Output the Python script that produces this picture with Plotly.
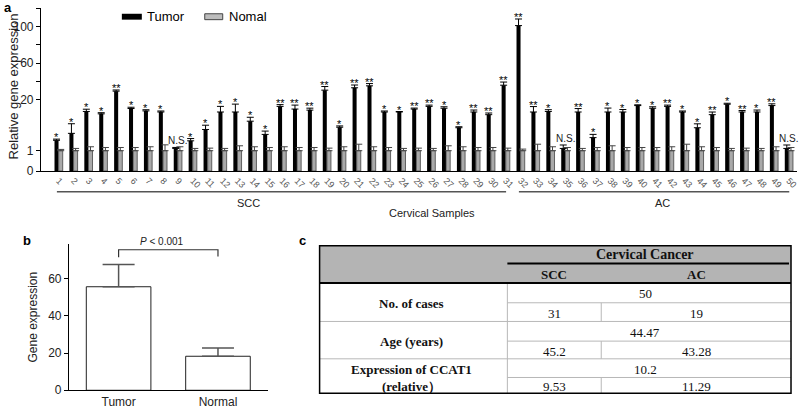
import numpy as np
import plotly.graph_objects as go

W, H = 800, 413

# ---------------- data: panel a ----------------
samples = list(range(1, 51))
tumor = [4.9, 7.5, 15.7, 14.8, 29.6, 16.8, 15.9, 15.5, 1.85, 4.7,
         8.95, 15.5, 15.5, 12.05, 7.1, 17.6, 16.6, 16.2, 30.7, 9.8,
         33.3, 35.4, 15.5, 15.5, 16.6, 17.6, 16.9, 9.6, 15.5, 14.5,
         36.1, 101.0, 15.5, 15.7, 1.85, 15.5, 5.9, 15.5, 15.5, 17.9,
         16.9, 17.6, 15.5, 9.6, 14.5, 18.4, 15.5, 15.5, 17.9, 1.85]
tumor_err = [0.44, 3.6, 0.84, 0.44, 1.3, 0.48, 0.44, 0.37, 0.37, 0.85,
             1.6, 2.1, 2.95, 1.47, 1.25, 0.66, 1.48, 0.73, 3.96, 0.48,
             3.0, 2.46, 0.37, 0.18, 0.37, 0.48, 0.55, 0.37, 0.74, 0.62,
             3.43, 7.2, 2.03, 0.66, 1.29, 1.29, 1.21, 1.47, 0.92, 0.29,
             0.55, 0.48, 0.37, 1.47, 0.99, 0.37, 0.55, 0.74, 0.66, 1.29]
normal = [1.0] * 50
normal_err = [0.48, 0.85, 1.47, 1.2, 1.2, 1.2, 1.47, 2.2, 1.47, 0.85,
              0.96, 0.85, 1.84, 1.47, 1.2, 1.47, 1.2, 1.2, 0.96, 1.47,
              2.43, 1.47, 1.2, 0.85, 0.96, 0.85, 1.84, 1.47, 1.2, 1.2,
              0.96, 0.6, 2.43, 1.47, 1.2, 0.85, 1.2, 1.84, 1.2, 1.2,
              1.2, 1.47, 2.43, 1.47, 1.2, 0.85, 0.96, 0.85, 1.47, 1.2]
signif = ["*", "*", "*", "*", "**", "*", "*", "*", "N.S.", "*",
          "*", "*", "*", "*", "*", "**", "**", "**", "**", "*",
          "**", "**", "*", "*", "**", "**", "*", "*", "**", "**",
          "**", "**", "**", "*", "N.S.", "**", "*", "*", "*", "*",
          "*", "**", "*", "*", "**", "*", "**", "*", "**", "N.S."]
ytick_vals = [0, 1, 20, 40, 60, 80, 100, 120]
ytick_text = ["0", "1", "20", "", "60", "", "100", ""]
groups = ["SCC", "AC"]
group_span = [(1, 31), (32, 50)]

# ---------------- data: panel b ----------------
b_cats = ["Tumor", "Normal"]
b_vals = [55.7, 18.3]
b_err = [12.0, 4.4]
b_ticks = [0, 20, 40, 60]

# ---------------- data: panel c ----------------
c_head = "Cervical Cancer"
c_cols = ["SCC", "AC"]
c_rows = ["No. of cases", "Age (years)", "Expression of CCAT1<br>(relative）"]
c_total = ["50", "44.47", "10.2"]
c_scc = ["31", "45.2", "9.53"]
c_ac = ["19", "43.28", "11.29"]

# piecewise (broken) y scale of panel a
BRK_V = [0, 1, 20, 120]
BRK_P = [0, 20.7, 72.3, 165.7]


def T(v):
    return np.interp(np.asarray(v, dtype=float), BRK_V, BRK_P)


def px(x):
    return x / W


def py(y):
    return 1 - y / H


SANS = "Liberation Sans, Arial, sans-serif"
SERIF = "Liberation Serif, Times New Roman, serif"

fig = go.Figure()

t_arr = np.array(tumor)
te = np.array(tumor_err)
n_arr = np.array(normal)
ne = np.array(normal_err)
BW = 0.27

fig.add_trace(go.Bar(
    x=samples, y=T(t_arr), width=BW, offset=-BW - 0.01,
    marker=dict(color="black", line=dict(width=0)),
    error_y=dict(type="data", symmetric=False, array=T(t_arr + te) - T(t_arr),
                 arrayminus=[0] * 50, color="black", thickness=1, width=3.5),
    xaxis="x", yaxis="y", name="Tumor"))
fig.add_trace(go.Bar(
    x=samples, y=T(n_arr), width=BW, offset=0.0,
    marker=dict(color="#a9a9a9", line=dict(color="#444", width=0.8)),
    error_y=dict(type="data", symmetric=False, array=T(n_arr + ne) - T(n_arr),
                 arrayminus=[0] * 50, color="#444", thickness=1, width=3.5),
    xaxis="x", yaxis="y", name="Nomal"))

fig.add_trace(go.Bar(
    x=b_cats, y=b_vals, width=0.65,
    marker=dict(color="white", line=dict(color="#222", width=1)),
    error_y=dict(type="data", symmetric=False, array=b_err, arrayminus=[0, 0],
                 color="#555", thickness=1.5, width=16),
    xaxis="x2", yaxis="y2"))

ann = []
shapes = []


def label(x, y, text, size=11, family=SANS, color="#222", **kw):
    d = dict(x=px(x), y=py(y), xref="paper", yref="paper", text=text, showarrow=False,
             xanchor="center", yanchor="middle", font=dict(family=family, size=size, color=color))
    d.update(kw)
    ann.append(d)


# significance marks
for i, s in enumerate(signif):
    x = samples[i]
    if s == "N.S.":
        top = max(T(t_arr[i] + te[i]), T(n_arr[i] + ne[i]))
        ann.append(dict(x=x, y=float(top), xref="x", yref="y", text=s, showarrow=False,
                        xanchor="center", yanchor="bottom", yshift=-1,
                        font=dict(family=SANS, size=10, color="#222")))
    else:
        top = T(t_arr[i] + te[i])
        ann.append(dict(x=x - BW / 2 - 0.01, y=float(top), xref="x", yref="y", text=s,
                        showarrow=False, xanchor="center", yanchor="bottom", yshift=-6,
                        font=dict(family=SANS, size=11, color="black")))

# legend (panel a)
shapes.append(dict(type="rect", xref="paper", yref="paper", x0=px(122), x1=px(142),
                   y0=py(20), y1=py(14), fillcolor="black", line=dict(width=0)))
shapes.append(dict(type="rect", xref="paper", yref="paper", x0=px(205), x1=px(223),
                   y0=py(20), y1=py(14), fillcolor="#bdbdbd", line=dict(color="#444", width=1)))
label(145, 17, "Tumor", size=13, color="black", xanchor="left")
label(227, 17, "Nomal", size=13, color="black", xanchor="left")

# group lines & labels
for g, (a, b) in zip(groups, group_span):
    shapes.append(dict(type="line", xref="x", yref="paper", x0=a - 0.12, x1=b + 0.02,
                       y0=py(195), y1=py(195), line=dict(color="#555", width=1.5)))
label(249, 206, "SCC")
label(663, 206, "AC")
label(433, 217, "Cervical Samples")

# axis titles and panel letters
label(14, 88, "Relative gene expression", size=13, textangle=-90)
label(33, 322, "Gene expression", size=12, textangle=-90)
for letter, (lx, ly) in {"a": (8, 8), "b": (27, 245), "c": (303, 245)}.items():
    label(lx, ly, "<b>%s</b>" % letter, size=13, color="black")

# panel b bracket and p-value
shapes.append(dict(type="path", xref="x2", yref="y2",
                   path="M 0,71.5 L 0,75.6 L 1,75.6 L 1,72.0",
                   line=dict(color="#333", width=1.2)))
label(162, 246, "<i>P</i> < 0.001", size=10)

# ---------------- panel c table ----------------
L, R, TOP, BOT = 320, 792, 250, 400
C1, C2 = 508, 602
HMID, HBOT = 268, 288
row_bounds = [(288, 308, 327), (327, 347, 365), (365, 384, 400)]

shapes.append(dict(type="rect", xref="paper", yref="paper", x0=px(L), x1=px(R), y0=py(HBOT), y1=py(TOP),
                   fillcolor="#b4b4b4", line=dict(width=0), layer="below"))
grid = "#b8b8b8"
shapes.append(dict(type="line", xref="paper", yref="paper", x0=px(C1), x1=px(C1), y0=py(HBOT), y1=py(BOT),
                   line=dict(color=grid, width=1)))
for (r0, rm, r1) in row_bounds:
    shapes.append(dict(type="line", xref="paper", yref="paper", x0=px(C1), x1=px(R), y0=py(rm), y1=py(rm),
                       line=dict(color=grid, width=1)))
    shapes.append(dict(type="line", xref="paper", yref="paper", x0=px(C2), x1=px(C2), y0=py(rm), y1=py(r1),
                       line=dict(color=grid, width=1)))
    if r1 != BOT:
        shapes.append(dict(type="line", xref="paper", yref="paper", x0=px(L), x1=px(R), y0=py(r1), y1=py(r1),
                           line=dict(color=grid, width=1)))
shapes.append(dict(type="line", xref="paper", yref="paper", x0=px(C1), x1=px(R - 2), y0=py(HMID), y1=py(HMID),
                   line=dict(color="black", width=2)))
shapes.append(dict(type="line", xref="paper", yref="paper", x0=px(L), x1=px(R), y0=py(HBOT), y1=py(HBOT),
                   line=dict(color="black", width=2)))
shapes.append(dict(type="rect", xref="paper", yref="paper", x0=px(L), x1=px(R), y0=py(BOT), y1=py(TOP),
                   line=dict(color="black", width=1.5)))

label((C1 + R) / 2 - 4, 259, "<b>%s</b>" % c_head, size=14, family=SERIF, color="#111")
label((C1 + C2) / 2, 279, "<b>%s</b>" % c_cols[0], size=13, family=SERIF, color="#111")
label((C2 + R) / 2, 279, "<b>%s</b>" % c_cols[1], size=13, family=SERIF, color="#111")
for k, (r0, rm, r1) in enumerate(row_bounds):
    yc = (r0 + r1) / 2 + (1.5 if k < 2 else 2.5)
    label((L + C1) / 2 - 2, yc, "<b>%s</b>" % c_rows[k], size=13, family=SERIF, color="#111")
    label((C1 + R) / 2 - 4, (r0 + rm) / 2 + 1, c_total[k], size=13, family=SERIF, color="#111")
    label((C1 + C2) / 2, (rm + r1) / 2 + 1.5, c_scc[k], size=13, family=SERIF, color="#111")
    label((C2 + R) / 2, (rm + r1) / 2 + 1.5, c_ac[k], size=13, family=SERIF, color="#111")

axis_common = dict(showgrid=False, zeroline=False, showline=True, linecolor="black", linewidth=1,
                   tickcolor="black", ticklen=4)
tf12 = dict(family=SANS, size=12, color="#222")

fig.update_layout(
    width=W, height=H, margin=dict(l=0, r=0, t=0, b=0),
    paper_bgcolor="white", plot_bgcolor="white", showlegend=False, barmode="overlay",
    xaxis=dict(domain=[px(41), px(798)], range=[-0.19, 50.54], tickmode="array", tickvals=samples,
               ticktext=[str(s) for s in samples], tickangle=45, ticks="", anchor="y",
               tickfont=dict(family=SANS, size=9, color="#555"), **axis_common),
    yaxis=dict(domain=[py(174), py(8.3)], range=[0, 165.7], tickmode="array",
               tickvals=list(T(ytick_vals)), ticktext=ytick_text, ticks="outside", anchor="x",
               tickfont=tf12, **axis_common),
    xaxis2=dict(domain=[px(69), px(268)], type="category", range=[-0.5, 1.5], ticks="",
                anchor="y2", tickfont=tf12, **axis_common),
    yaxis2=dict(domain=[py(397), py(248)], range=[0, 78.8], tickmode="array", tickvals=b_ticks,
                ticks="outside", anchor="x2", tickfont=tf12, **axis_common),
    annotations=ann, shapes=shapes,
)

fig.write_html("out.html", config={"displayModeBar": False},
               post_script="document.body.style.margin='0';document.body.style.overflow='hidden';")
